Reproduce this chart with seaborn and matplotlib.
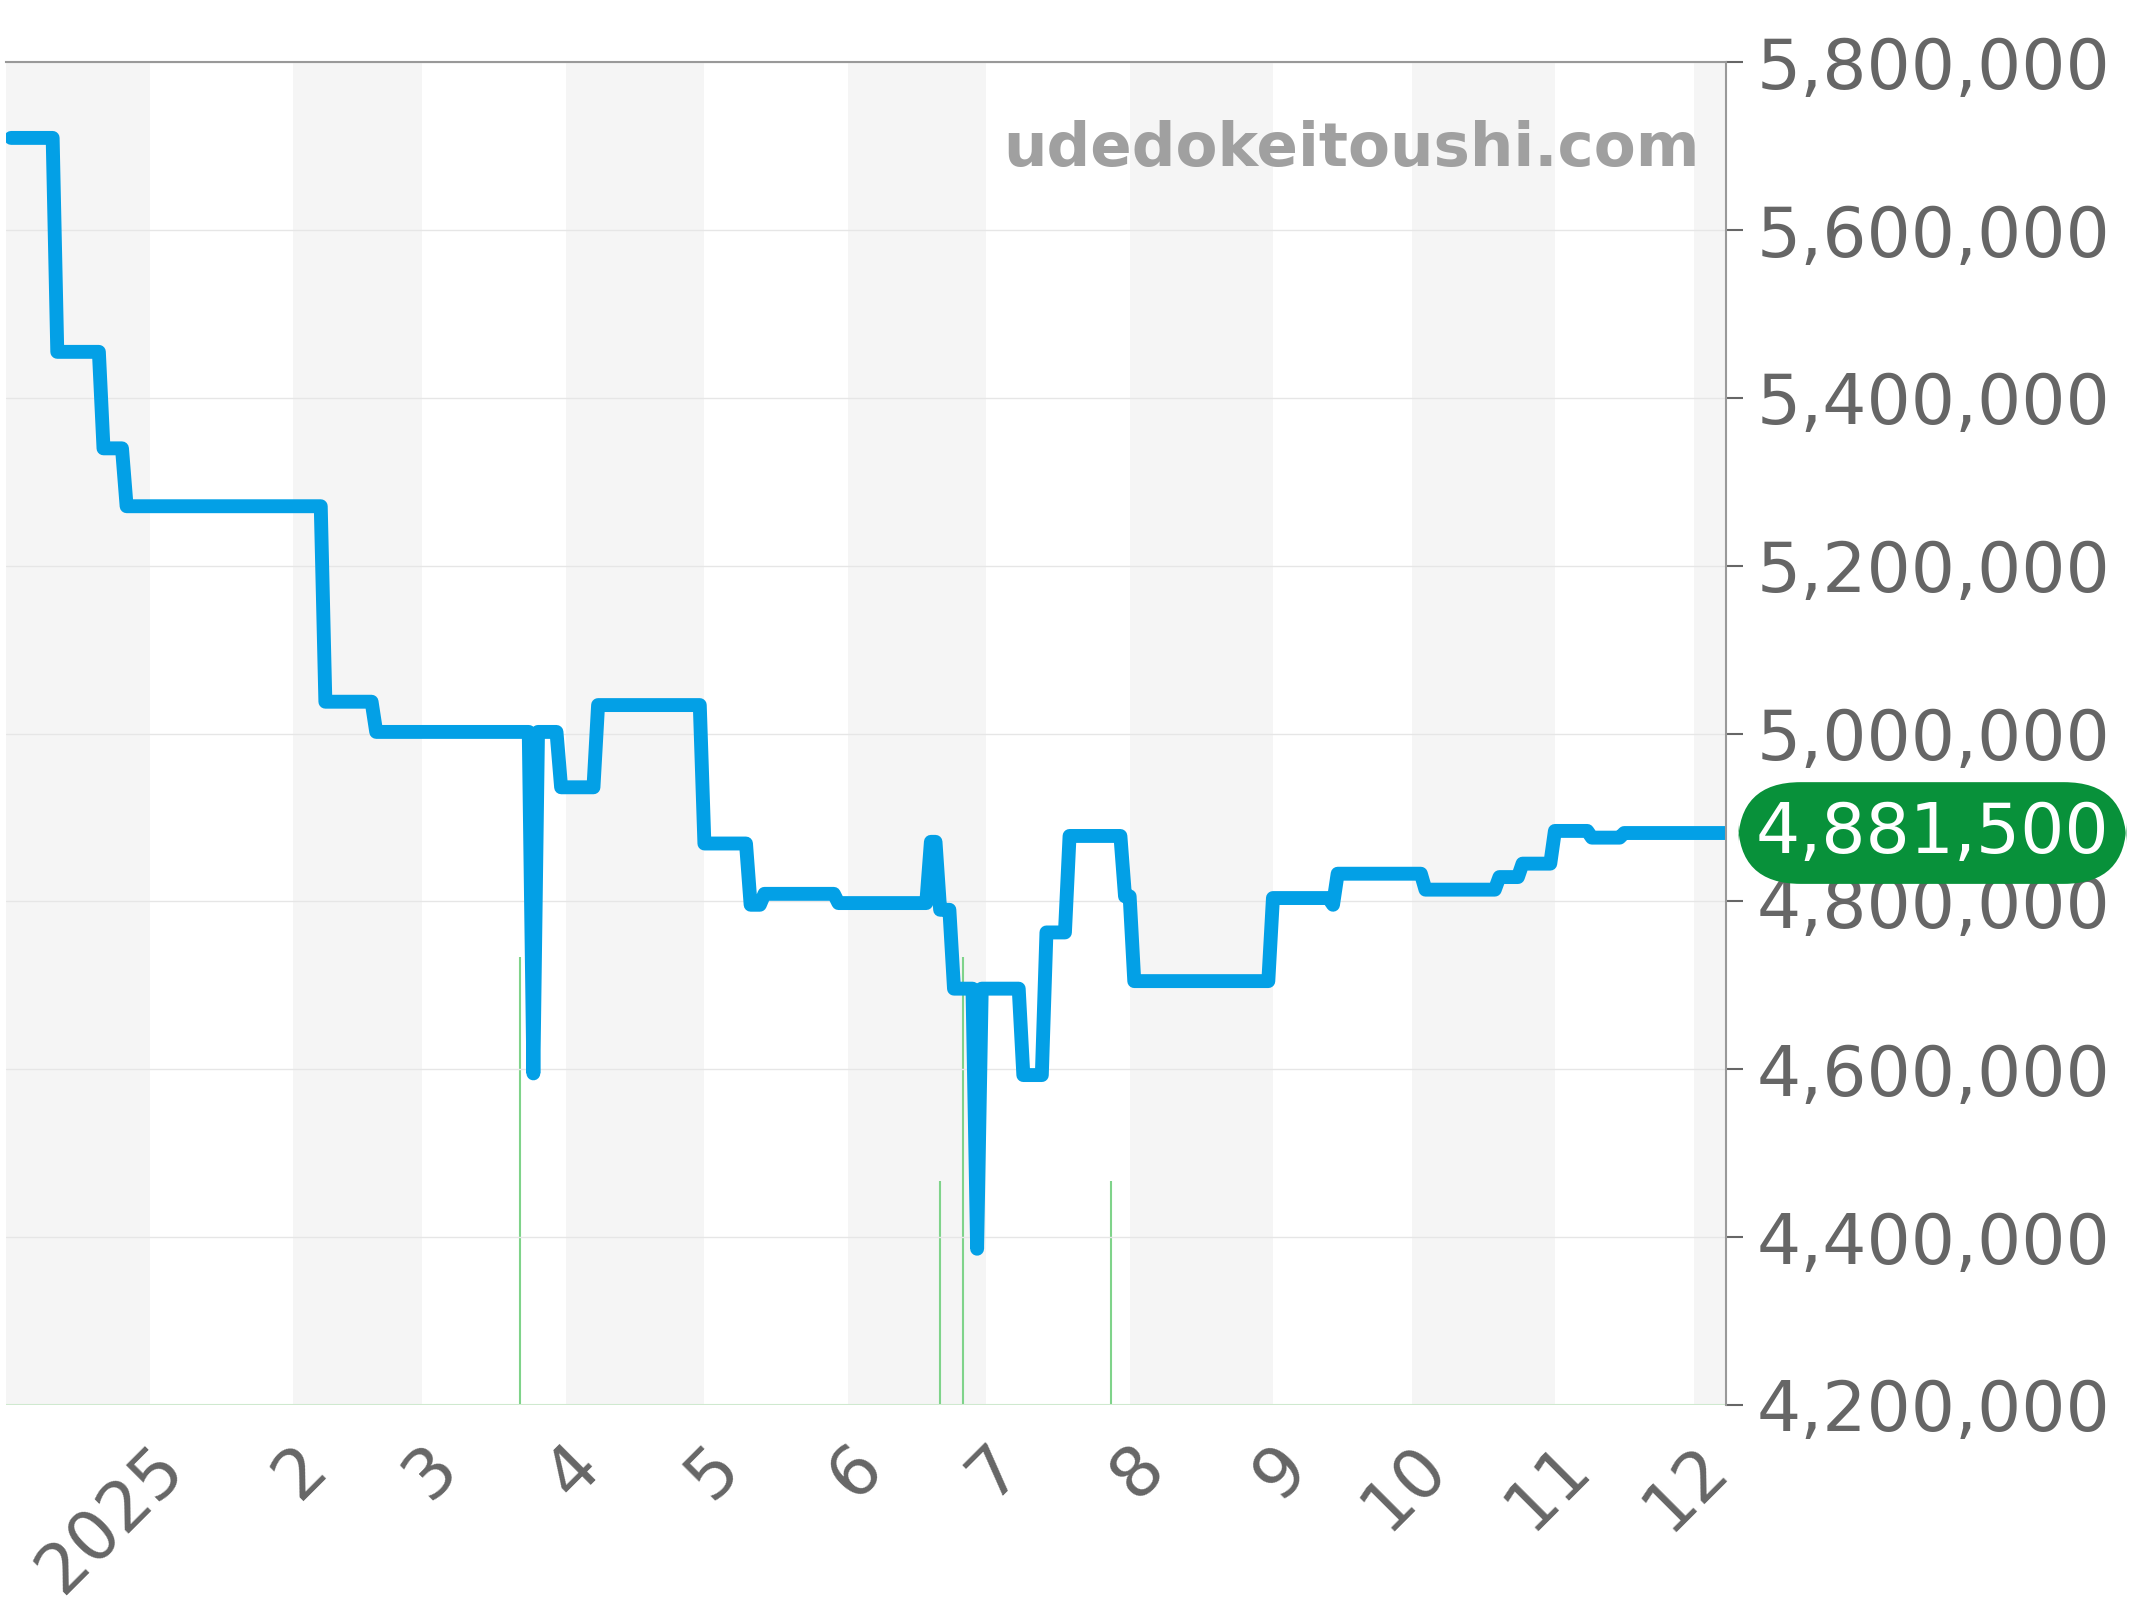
import pandas as pd
import matplotlib
matplotlib.use("Agg")
import matplotlib.pyplot as plt
import seaborn as sns

# price history (step-like)
dates = ["2024-12-02", "2024-12-11", "2024-12-12", "2024-12-21", "2024-12-22", "2024-12-26", "2024-12-27",
         "2025-02-07", "2025-02-08", "2025-02-18", "2025-02-19", "2025-03-24", "2025-03-25", "2025-03-26",
         "2025-03-30", "2025-03-31", "2025-04-07", "2025-04-08", "2025-04-30", "2025-05-01", "2025-05-10",
         "2025-05-11", "2025-05-13", "2025-05-14", "2025-05-29", "2025-05-30", "2025-06-18", "2025-06-19",
         "2025-06-20", "2025-06-21", "2025-06-23", "2025-06-24", "2025-06-28", "2025-06-29", "2025-06-30",
         "2025-07-08", "2025-07-09", "2025-07-13", "2025-07-14", "2025-07-18", "2025-07-19", "2025-07-30",
         "2025-07-31", "2025-08-01", "2025-08-02", "2025-08-31", "2025-09-01", "2025-09-13", "2025-09-14",
         "2025-09-15", "2025-10-03", "2025-10-04", "2025-10-19", "2025-10-20", "2025-10-24", "2025-10-25",
         "2025-10-31", "2025-11-01", "2025-11-08", "2025-11-09", "2025-11-15", "2025-11-16", "2025-12-08"]
prices = [5710000, 5710000, 5455000, 5455000, 5340000, 5340000, 5271000,
          5271000, 5038000, 5038000, 5002000, 5002000, 4595000, 5002000,
          5002000, 4936000, 4936000, 5034000, 5034000, 4869000, 4869000,
          4796000, 4796000, 4809000, 4809000, 4798000, 4798000, 4871000,
          4871000, 4790000, 4790000, 4696000, 4696000, 4386000, 4696000,
          4696000, 4593000, 4593000, 4763000, 4763000, 4878000, 4878000,
          4806000, 4806000, 4705000, 4705000, 4804000, 4804000, 4796000,
          4833000, 4833000, 4814000, 4814000, 4829000, 4829000, 4845000,
          4845000, 4884000, 4884000, 4876000, 4876000, 4881500, 4881500]

vol_dates = ["2025-03-22", "2025-06-21", "2025-06-26", "2025-07-28"]
vol_counts = [2, 1, 2, 1]

month_starts = pd.date_range("2024-12-01", "2026-01-01", freq="MS")
month_labels = ["2025", "2", "3", "4", "5", "6", "7", "8", "9", "10", "11", "12"]
last_price = 4881500

df = pd.DataFrame({"date": pd.to_datetime(dates), "price": prices})

sns.set_theme(style="white")
plt.rcParams['font.family'] = ['DejaVu Sans']
fig = plt.figure(figsize=(21.44, 16), dpi=100)
ax = fig.add_axes([0.003, 0.122, 0.802, 0.839])

xmin, xmax = pd.Timestamp("2024-12-01"), pd.Timestamp("2025-12-08")

# volume bars + month bands live on a twin axis underneath the price line
ax2 = ax.twinx()
for i in range(len(month_starts) - 1):
    if i % 2 == 0:
        ax2.axvspan(month_starts[i], month_starts[i + 1], color="#f5f5f5", zorder=0, lw=0)
ax2.vlines(pd.to_datetime(vol_dates), 0, vol_counts, color="#7fd38a", lw=1.5, zorder=2)
ax2.set_ylim(0, 6)
ax2.axis("off")

ax.set_zorder(ax2.get_zorder() + 1)
ax.patch.set_visible(False)
sns.lineplot(data=df, x="date", y="price", ax=ax, color="#03a0e6", lw=10,
             solid_joinstyle="round", solid_capstyle="round")

ax.set_xlim(xmin, xmax)
ax2.set_xlim(xmin, xmax)
ax.set_ylim(4200000, 5800000)
ax.yaxis.tick_right()
ax.set_yticks(range(4200000, 5800001, 200000))
ax.yaxis.set_major_formatter(matplotlib.ticker.FuncFormatter(lambda v, p: f"{int(v):,}"))
ax.set_xticks(month_starts[1:13])
ax.set_xticklabels(month_labels, rotation=45, ha="right", rotation_mode="anchor")
ax.tick_params(axis="both", labelsize=50, colors="#666666", length=12, width=1.5, direction="out")
ax.tick_params(axis="x", pad=8)
ax.tick_params(axis="y", pad=10)
ax.grid(axis="y", color="#e6e6e6", lw=1)
ax.set_xlabel("")
ax.set_ylabel("")
for s in ["left", "bottom"]:
    ax.spines[s].set_visible(False)
for s in ["top", "right"]:
    ax.spines[s].set_color("#999999")
    ax.spines[s].set_linewidth(1.5)
ax.axhline(4200000, color="#cfe9cf", lw=1.5)

ax.text(0.985, 0.935, "udedokeitoushi.com", transform=ax.transAxes, ha="right", va="center",
        fontsize=44, fontweight="bold", color="#a0a0a0")
ax.text(1.12, (last_price - 4200000) / 1600000, f"{last_price:,}", transform=ax.transAxes,
        ha="center", va="center", fontsize=50, color="white", zorder=10,
        bbox=dict(boxstyle="round,pad=0.25,rounding_size=0.9", fc="#08913a", ec="none"), clip_on=False)

fig.savefig("out.png", dpi=100)
